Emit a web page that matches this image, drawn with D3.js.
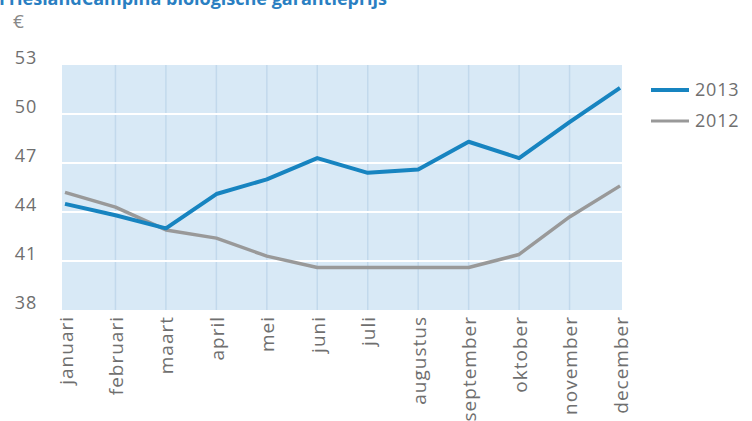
<!DOCTYPE html>
<html><head><meta charset="utf-8">
<script src="https://cdn.jsdelivr.net/npm/d3@7"></script>
<style>
html,body{margin:0;padding:0;background:#fff;}
svg{display:block;font-family:"Open Sans",sans-serif;}
</style></head>
<body><svg id="c" width="752" height="421"></svg>
<script>
const title = "FrieslandCampina biologische garantieprijs";
const unit = "€";
const months = ["januari","februari","maart","april","mei","juni","juli","augustus","september","oktober","november","december"];
const series2013 = [44.5,43.8,43.0,45.1,46.0,47.3,46.4,46.6,48.3,47.3,49.5,51.6];
const series2012 = [45.2,44.3,42.9,42.4,41.3,40.6,40.6,40.6,40.6,41.4,43.7,45.6];
const yTicks = [38,41,44,47,50,53];
const seriesNames = ["2013","2012"];
const seriesColors = ["#1784c0","#999999"];

const svg = d3.select("#c");
const plot = {left:62, right:622, top:65, bottom:310};
const x = d3.scalePoint().domain(months).range([65,620]);
const y = d3.scaleLinear().domain([38,53]).range([plot.bottom, plot.top]);

// title (partly cut off at top, as in the reference)
svg.append("text").attr("x",-1).attr("y",5).attr("fill","#2a7fc2")
  .attr("font-weight","bold").attr("font-size",18).text(title);
svg.append("text").attr("x",13).attr("y",28).attr("fill","#888")
  .attr("font-size",19).text(unit);

// background
svg.append("rect").attr("x",plot.left).attr("y",plot.top)
  .attr("width",plot.right-plot.left).attr("height",plot.bottom-plot.top)
  .attr("fill","#d8e9f6");

// vertical gridlines
svg.append("g").selectAll("line").data(months.slice(1,-1)).join("line")
  .attr("x1",d=>x(d)).attr("x2",d=>x(d))
  .attr("y1",plot.top).attr("y2",plot.bottom)
  .attr("stroke","#c2d9ec").attr("stroke-width",1.5);

// horizontal gridlines
svg.append("g").selectAll("line").data(yTicks.filter(t=>t>38&&t<53)).join("line")
  .attr("x1",plot.left).attr("x2",plot.right)
  .attr("y1",d=>y(d)).attr("y2",d=>y(d))
  .attr("stroke","#ffffff").attr("stroke-width",2);

// y axis
const yAxis = d3.axisLeft(y).tickValues(yTicks).tickSize(0).tickPadding(0);
const yg = svg.append("g").attr("transform","translate(37,-7)").call(yAxis);
yg.select(".domain").remove();
yg.selectAll("text").attr("font-family","Open Sans, sans-serif").attr("font-size",18)
  .attr("fill","#6f6f6f").attr("letter-spacing","0.8px");

// x axis labels
const xAxis = d3.axisBottom(x).tickSize(0).tickPadding(0);
const xg = svg.append("g").attr("transform","translate(0,316)").call(xAxis);
xg.select(".domain").remove();
xg.selectAll("text").attr("font-family","Open Sans, sans-serif").attr("font-size",19)
  .attr("fill","#6f6f6f").attr("letter-spacing","1px")
  .attr("text-anchor","end").attr("dy",null).attr("y",0)
  .attr("transform","translate(7,0) rotate(-90)");

// lines
const line = d3.line().x((d,i)=>x(months[i])).y(d=>y(d));
svg.append("path").datum(series2012).attr("d",line).attr("fill","none")
  .attr("stroke",seriesColors[1]).attr("stroke-width",3.5).attr("stroke-linejoin","round");
svg.append("path").datum(series2013).attr("d",line).attr("fill","none")
  .attr("stroke",seriesColors[0]).attr("stroke-width",4).attr("stroke-linejoin","round");

// legend
const lg = svg.append("g").selectAll("g").data(seriesNames).join("g")
  .attr("transform",(d,i)=>`translate(651,${90+i*31})`);
lg.append("line").attr("x1",0).attr("x2",38).attr("y1",0).attr("y2",0)
  .attr("stroke",(d,i)=>seriesColors[i]).attr("stroke-width",(d,i)=>i?3:4);
lg.append("text").attr("x",44).attr("y",6).attr("font-size",18).attr("fill","#6f6f6f")
  .attr("letter-spacing","0.8px").text(d=>d);
</script></body></html>
